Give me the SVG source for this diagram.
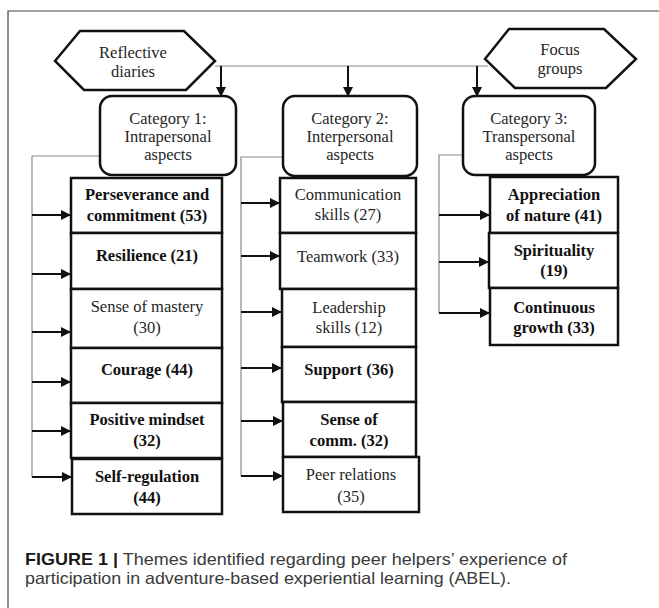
<svg xmlns="http://www.w3.org/2000/svg" width="659" height="608" viewBox="0 0 659 608">
<style>
.frame{fill:none;stroke:#444;stroke-width:1.2}
.hex,.cat,.item{fill:#fff;stroke:#111;stroke-width:2.5}
.gray{fill:none;stroke:#8a8a8a;stroke-width:1.2}
.arr{fill:none;stroke:#111;stroke-width:2;marker-end:url(#ah)}
.t{font-family:"Liberation Serif","Times New Roman",serif;font-size:16.5px;fill:#262626;text-anchor:middle}
.b{font-weight:bold;fill:#111}
.cap{font-family:"Liberation Sans",Arial,sans-serif;font-size:16.5px;fill:#3a3a3a}
</style>
<defs>
<marker id="ah" viewBox="0 0 10 10" refX="10" refY="5" markerWidth="11" markerHeight="10" markerUnits="userSpaceOnUse" orient="auto">
<path d="M0,0 L10,5 L0,10 Z" fill="#111"/>
</marker>
</defs>
<rect width="659" height="608" fill="#fff"/>
<path class="frame" d="M8,608 V11 H659"/>

<g id="connectors">
<path class="gray" d="M215,66 H488"/>
<path class="arr" d="M221,66 V97"/>
<path class="arr" d="M348,66 V97"/>
<path class="arr" d="M477,66 V97"/>
<path class="gray" d="M100,156 H32 V477"/>
<path class="gray" d="M283,157 H241 V476"/>
<path class="gray" d="M463,155 H439 V313"/>
<path class="arr" d="M32,215 H71"/>
<path class="arr" d="M32,274 H71"/>
<path class="arr" d="M32,332 H71"/>
<path class="arr" d="M32,382 H71"/>
<path class="arr" d="M32,431 H71"/>
<path class="arr" d="M32,477 H72"/>
<path class="arr" d="M241,203 H280"/>
<path class="arr" d="M241,256 H280"/>
<path class="arr" d="M241,312 H282"/>
<path class="arr" d="M241,368 H282"/>
<path class="arr" d="M241,421 H283"/>
<path class="arr" d="M241,476 H283"/>
<path class="arr" d="M439,215 H490"/>
<path class="arr" d="M439,262 H489"/>
<path class="arr" d="M439,313 H490"/>
</g>

<g id="reflective-diaries">
<polygon class="hex" points="55,61 80,31 184,31 215,61 186,90 84,90"/>
<text class="t" x="133" y="58">Reflective</text>
<text class="t" x="133" y="77">diaries</text>
</g>
<g id="focus-groups">
<polygon class="hex" points="485,59 509,29 604,29 636,59 606,88 515,88"/>
<text class="t" x="560" y="55">Focus</text>
<text class="t" x="560" y="74">groups</text>
</g>

<g id="category-1">
<rect class="cat" x="100" y="96" width="136" height="79" rx="12"/>
<text class="t" x="168" y="124">Category 1:</text>
<text class="t" x="168" y="142">Intrapersonal</text>
<text class="t" x="168" y="160">aspects</text>
</g>
<g id="category-2">
<rect class="cat" x="283" y="96" width="134" height="80" rx="12"/>
<text class="t" x="350" y="124">Category 2:</text>
<text class="t" x="350" y="142">Interpersonal</text>
<text class="t" x="350" y="160">aspects</text>
</g>
<g id="category-3">
<rect class="cat" x="463" y="96" width="132" height="79" rx="12"/>
<text class="t" x="529" y="124">Category 3:</text>
<text class="t" x="529" y="142">Transpersonal</text>
<text class="t" x="529" y="160">aspects</text>
</g>

<g id="perseverance">
<rect class="item" x="71" y="178" width="151" height="55"/>
<text class="t b" x="147" y="200">Perseverance and</text>
<text class="t b" x="147" y="221">commitment (53)</text>
</g>
<g id="resilience">
<rect class="item" x="71" y="233" width="151" height="56"/>
<text class="t b" x="147" y="261">Resilience (21)</text>
</g>
<g id="sense-of-mastery">
<rect class="item" x="71" y="289" width="151" height="59"/>
<text class="t" x="147" y="312">Sense of mastery</text>
<text class="t" x="147" y="333">(30)</text>
</g>
<g id="courage">
<rect class="item" x="71" y="348" width="151" height="55"/>
<text class="t b" x="147" y="375">Courage (44)</text>
</g>
<g id="positive-mindset">
<rect class="item" x="71" y="403" width="151" height="55"/>
<text class="t b" x="147" y="425">Positive mindset</text>
<text class="t b" x="147" y="446">(32)</text>
</g>
<g id="self-regulation">
<rect class="item" x="72" y="459" width="150" height="55"/>
<text class="t b" x="147" y="482">Self-regulation</text>
<text class="t b" x="147" y="503">(44)</text>
</g>

<g id="communication">
<rect class="item" x="280" y="178" width="136" height="55"/>
<text class="t" x="348" y="200">Communication</text>
<text class="t" x="348" y="220">skills (27)</text>
</g>
<g id="teamwork">
<rect class="item" x="280" y="233" width="136" height="56"/>
<text class="t" x="348" y="262">Teamwork (33)</text>
</g>
<g id="leadership">
<rect class="item" x="282" y="289" width="134" height="58"/>
<text class="t" x="349" y="313">Leadership</text>
<text class="t" x="349" y="333">skills (12)</text>
</g>
<g id="support">
<rect class="item" x="282" y="347" width="134" height="55"/>
<text class="t b" x="349" y="375">Support (36)</text>
</g>
<g id="sense-of-comm">
<rect class="item" x="283" y="402" width="133" height="55"/>
<text class="t b" x="349" y="425">Sense of</text>
<text class="t b" x="349" y="446">comm. (32)</text>
</g>
<g id="peer-relations">
<rect class="item" x="283" y="457" width="136" height="55"/>
<text class="t" x="351" y="480">Peer relations</text>
<text class="t" x="351" y="502">(35)</text>
</g>

<g id="appreciation">
<rect class="item" x="490" y="177" width="128" height="56"/>
<text class="t b" x="554" y="200">Appreciation</text>
<text class="t b" x="554" y="221">of nature (41)</text>
</g>
<g id="spirituality">
<rect class="item" x="489" y="233" width="129" height="55"/>
<text class="t b" x="554" y="256">Spirituality</text>
<text class="t b" x="554" y="276">(19)</text>
</g>
<g id="continuous-growth">
<rect class="item" x="490" y="288" width="128" height="57"/>
<text class="t b" x="554" y="313">Continuous</text>
<text class="t b" x="554" y="333">growth (33)</text>
</g>

<g id="caption">
<text class="cap" x="25" y="565" textLength="542" lengthAdjust="spacingAndGlyphs"><tspan font-weight="bold" fill="#1a1a1a">FIGURE 1 |</tspan> Themes identified regarding peer helpers’ experience of</text>
<text class="cap" x="25" y="584" textLength="486" lengthAdjust="spacingAndGlyphs">participation in adventure-based experiential learning (ABEL).</text>
</g>
</svg>
